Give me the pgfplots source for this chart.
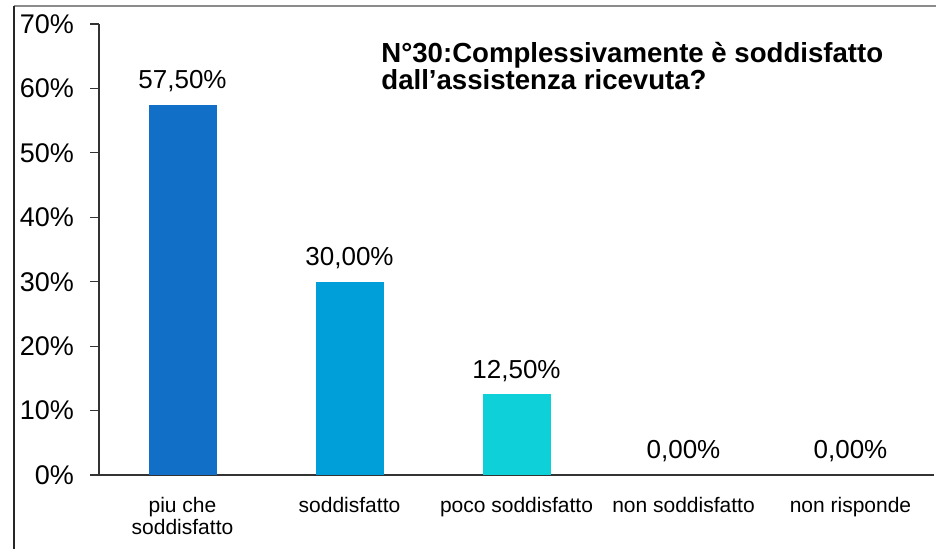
\documentclass[border=0pt]{standalone}
\usepackage{pgfplots}
\pgfplotsset{compat=1.18}
\usepackage{fontspec}
\setmainfont{Liberation Sans}
\definecolor{barA}{RGB}{17,111,199}
\definecolor{barB}{RGB}{0,159,218}
\definecolor{barC}{RGB}{14,208,216}
\definecolor{frameg}{RGB}{140,140,140}
\begin{document}
\begin{tikzpicture}
\useasboundingbox (0pt,0pt) rectangle (468pt,274.5pt);
\draw[frameg,line width=1pt] (7pt,271.5pt) -- (468pt,271.5pt);
\draw[black!85,line width=1.2pt] (7pt,0pt) -- (7pt,271.5pt);
\begin{axis}[
  at={(91.25pt,37pt)}, anchor=origin,
  scale only axis, width=417.5pt, height=225.5pt,
  xmin=-0.5, xmax=4.5, ymin=0, ymax=70,
  axis lines*=left,
  axis line style={black!80, line width=0.6pt},
  ytick={0,10,...,70},
  yticklabels={0\%,10\%,20\%,30\%,40\%,50\%,60\%,70\%},
  xtick={0,1,2,3,4},
  xticklabels={{piu che\\soddisfatto},soddisfatto,poco soddisfatto,non soddisfatto,non risponde},
  extra x ticks={-0.5,0.5,1.5,2.5,3.5,4.5},
  extra x tick labels={},
  extra x tick style={major tick length=4.5pt, tick style={black!80, line width=0.6pt}},
  tick align=outside,
  major tick length=4.5pt,
  x tick style={draw=none},
  y tick style={black!80, line width=0.6pt},
  yticklabel style={font=\fontsize{13.5}{16}\selectfont, anchor=east, xshift=-4.5pt},
  xticklabel style={font=\fontsize{10.5}{11}\selectfont, align=center, anchor=north, yshift=-3pt},
  ybar, bar width=34pt, bar shift=0pt,
  nodes near coords={\pgfmathprintnumber[fixed,fixed zerofill,precision=2,use comma,assume math mode=true]{\pgfplotspointmeta}\%},
  every node near coord/.append style={font=\fontsize{13}{15}\selectfont, black, yshift=3pt},
  clip=false,
]
\addplot[fill=barA, draw=none] coordinates {(0,57.5)};
\addplot[fill=barB, draw=none] coordinates {(1,30.0)};
\addplot[fill=barC, draw=none] coordinates {(2,12.5)};
\addplot[fill=none, draw=none] coordinates {(3,0) (4,0)};
\end{axis}
\node[anchor=base west, font=\bfseries\fontsize{13.8}{14}\selectfont, inner sep=0pt] at (190.5pt,243pt) {N°30:Complessivamente è soddisfatto};
\node[anchor=base west, font=\bfseries\fontsize{13.8}{14}\selectfont, inner sep=0pt] at (190.5pt,229.5pt) {dall’assistenza ricevuta?};
\end{tikzpicture}
\end{document}
